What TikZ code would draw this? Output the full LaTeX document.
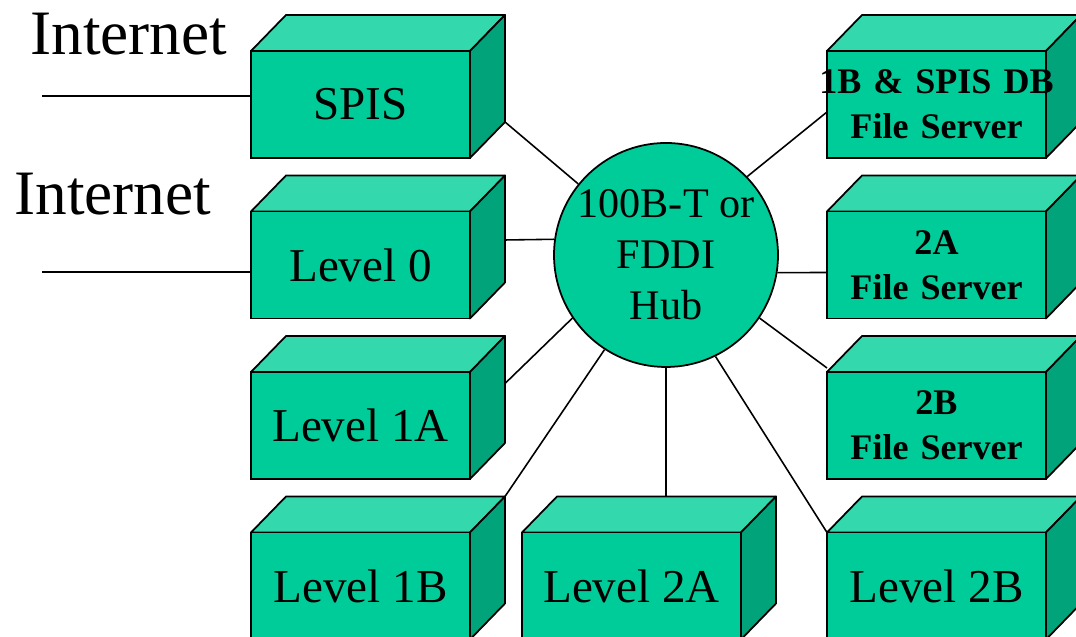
\documentclass[tikz,border=0pt]{standalone}
\usepackage{fontspec}
\setmainfont{Liberation Serif}
\usepackage{tikz}
\usetikzlibrary{shapes.geometric, backgrounds}
\usepackage{xcolor}
\definecolor{frontc}{RGB}{0,204,153}
\definecolor{topc}{RGB}{51,217,173}
\definecolor{sidec}{RGB}{0,163,122}
\tikzstyle{server} = [rectangle, minimum width=4.38cm, minimum height=2.14cm, inner sep=0pt, outer sep=0pt, text centered, draw=black, fill=frontc, line width=1pt, font=\fontsize{26.8}{32}\selectfont]
\tikzstyle{fileserver} = [server, text width=4.38cm, align=center, font=\bfseries\fontsize{20.5}{25.5}\selectfont]
\tikzstyle{hubnode} = [circle, minimum size=4.48cm, inner sep=0pt, align=center, draw=black, fill=frontc, line width=1pt, font=\fontsize{24}{29}\selectfont]
\tikzstyle{topface} = [draw=black, fill=topc, line width=1pt, line join=round]
\tikzstyle{sideface} = [draw=black, fill=sidec, line width=1pt, line join=round]
\tikzstyle{wan} = [anchor=base west, inner sep=0pt, font=\fontsize{36}{43}\selectfont]
\tikzstyle{wire} = [line width=0.9pt]

\begin{document}
\begin{tikzpicture}[node distance=3.21cm]

    \path [use as bounding box] (0,0) rectangle (21.52,12.74);
    \clip (0,0) rectangle (21.52,12.74);

    \node (wan1) [wan] at (0.60,11.64) {Internet};
    \node (wan2) [wan] at (0.28,8.44) {Internet};

    \node (spis) [server] at (7.21,10.65) {SPIS};
    \node (lvl0) [server, below of=spis] {Level 0};
    \node (lvl1a) [server, below of=lvl0] {Level 1A};
    \node (lvl1b) [server, below of=lvl1a] {Level 1B};
    \node (lvl2a) [server, right of=lvl1b, xshift=2.21cm] {Level 2A};
    \node (lvl2b) [server, right of=lvl2a, xshift=2.89cm] {Level 2B};
    \node (fs1b) [fileserver, right of=spis, xshift=8.31cm] {\makebox[0pt]{1B \& SPIS DB}\\File Server};
    \node (fs2a) [fileserver, below of=fs1b] {2A\\File Server};
    \node (fs2b) [fileserver, below of=fs2a] {2B\\File Server};
    \node (hub) [hubnode] at (13.32,7.64) {100B-T or\\FDDI\\Hub};

    % top and right side of every box
    \begin{pgfonlayer}{background}
    \foreach \n in {spis,lvl0,lvl1a,lvl1b,lvl2a,lvl2b,fs1b,fs2a,fs2b} {
        \draw [topface] (\n.north west) -- ++(0.7,0.72) -- ++(4.38,0) -- (\n.north east) -- cycle;
        \draw [sideface] (\n.north east) -- ++(0.7,0.72) -- ++(0,-2.14) -- (\n.south east) -- cycle;
    }
    \end{pgfonlayer}

    \coordinate (wan1-end) at (0.84,10.82);
    \coordinate (wan2-end) at (0.84,7.30);
    \draw [wire] (wan1-end) -- (wan1-end -| spis.west);
    \draw [wire] (wan2-end) -- (wan2-end -| lvl0.west);

    \draw [wire] (hub.141) -- ([shift={(0.7,0.72)}]spis.south east);
    \draw [wire] (hub.172) -- ([shift={(0.7,0.5)}]lvl0.east);
    \draw [wire] (hub.214) -- ([shift={(0.7,0.84)}]lvl1a.east);
    \draw [wire] (hub.237) -- ([shift={(0.7,0.72)}]lvl1b.north east);
    \draw [wire] (hub.270) -- ([shift={(0.69,0.72)}]lvl2a.north);
    \draw [wire] (hub.296) -- (lvl2b.north west);
    \draw [wire] (hub.326) -- ([shift={(0,0.08)}]fs2b.north west);
    \draw [wire] (hub.351) -- ([shift={(0,-0.15)}]fs2a.west);
    \draw [wire] (hub.44) -- ([shift={(0,-0.15)}]fs1b.west);
    \end{tikzpicture}
\end{document}
